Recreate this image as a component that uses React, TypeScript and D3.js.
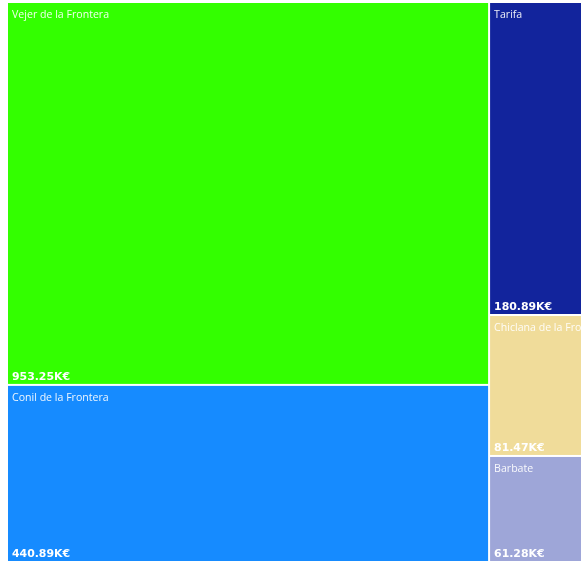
import React from "react";
import * as d3 from "d3";

const towns = ["Vejer de la Frontera", "Conil de la Frontera", "Tarifa", "Chiclana de la Frontera", "Barbate"];
const values = [953.25, 440.89, 180.89, 81.47, 61.28];
const colors = ["#33ff00", "#168bff", "#12249c", "#f0dc9a", "#9ea6d8"];

const W = 592;
const H = 558;

export default function App() {
  const root = d3
    .hierarchy({ name: "root", children: towns.map((t, i) => ({ name: t, value: values[i], color: colors[i] })) } as any)
    .sum((d: any) => d.value || 0)
    .sort((a, b) => (b.value || 0) - (a.value || 0));
  d3.treemap().tile(d3.treemapSquarify).size([W, H]).paddingInner(2).round(false)(root as any);
  const leaves = root.leaves() as any[];
  return (
    <svg width={573} height={559} style={{ display: "block", position: "fixed", left: 8, top: 3, overflow: "hidden" }}>
      {leaves.map((d, i) => (
        <g key={i}>
          <rect x={d.x0} y={d.y0} width={d.x1 - d.x0} height={d.y1 - d.y0} fill={d.data.color} />
          <text x={d.x0 + 4} y={d.y0 + 15} fill="#ffffff" fillOpacity={0.92} fontFamily="'Open Sans', sans-serif" fontSize={10.6}>
            {d.data.name}
          </text>
          <text x={d.x0 + 4} y={d.y1 - 4} fill="#ffffff" fontFamily="'DejaVu Sans', sans-serif" fontSize={10.9} fontWeight="bold">
            {d3.format(".2f")(d.data.value) + "K€"}
          </text>
        </g>
      ))}
    </svg>
  );
}
